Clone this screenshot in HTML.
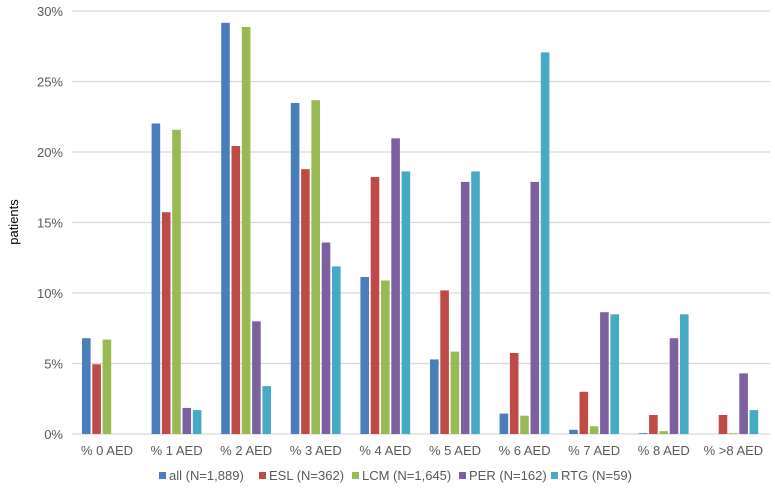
<!DOCTYPE html>
<html><head><meta charset="utf-8"><style>
body{margin:0;background:#fff;}
svg text{font-family:"Liberation Sans",sans-serif;fill:#595959;}
</style></head><body>
<svg id="s" width="775" height="489" xmlns="http://www.w3.org/2000/svg">
<g stroke="#d9d9d9" stroke-width="1.3">
<line x1="72" x2="770" y1="11" y2="11"/><line x1="72" x2="770" y1="81.5" y2="81.5"/>
<line x1="72" x2="770" y1="152" y2="152"/><line x1="72" x2="770" y1="222.5" y2="222.5"/>
<line x1="72" x2="770" y1="293" y2="293"/><line x1="72" x2="770" y1="363.5" y2="363.5"/>
<line x1="72" x2="770" y1="434" y2="434"/>
</g>
<g font-size="13" text-anchor="end">
<text x="63" y="16">30%</text><text x="63" y="86.5">25%</text><text x="63" y="157">20%</text>
<text x="63" y="227.5">15%</text><text x="63" y="298">10%</text><text x="63" y="368.5">5%</text><text x="63" y="439">0%</text>
</g>
<text transform="translate(18,222) rotate(-90)" font-size="13" text-anchor="middle" style="fill:#000">patients</text>
<g id="bars"></g>
<g font-size="13" text-anchor="middle">
<text x="107" y="455">% 0 AED</text><text x="176.6" y="455">% 1 AED</text><text x="246.2" y="455">% 2 AED</text>
<text x="315.8" y="455">% 3 AED</text><text x="385.4" y="455">% 4 AED</text><text x="455" y="455">% 5 AED</text>
<text x="524.6" y="455">% 6 AED</text><text x="594.2" y="455">% 7 AED</text><text x="663.8" y="455">% 8 AED</text>
<text x="733.4" y="455">% &gt;8 AED</text>
</g>
<g font-size="13">
<rect x="159" y="472" width="7" height="7" fill="#4a7ebb"/><text x="169" y="480">all (N=1,889)</text>
<rect x="259" y="472" width="7" height="7" fill="#be4b48"/><text x="269" y="480">ESL (N=362)</text>
<rect x="352" y="472" width="7" height="7" fill="#98b954"/><text x="362" y="480">LCM (N=1,645)</text>
<rect x="459" y="472" width="7" height="7" fill="#7d60a0"/><text x="469" y="480">PER (N=162)</text>
<rect x="551" y="472" width="7" height="7" fill="#46aac5"/><text x="561" y="480">RTG (N=59)</text>
</g>
</svg>
<script>
var d=[[6.8,4.95,6.7,0,0],[22.05,15.75,21.6,1.85,1.7],[29.2,20.45,28.9,8.0,3.4],[23.5,18.8,23.7,13.6,11.9],[11.15,18.25,10.9,21.0,18.65],[5.3,10.2,5.85,17.9,18.65],[1.45,5.75,1.3,17.9,27.1],[0.3,3.0,0.55,8.65,8.5],[0.06,1.35,0.2,6.8,8.5],[0,1.35,0.06,4.3,1.7]];
var c=["#4a7ebb","#be4b48","#98b954","#7d60a0","#46aac5"],h="";
for(var i=0;i<10;i++)for(var j=0;j<5;j++){var v=d[i][j];if(v<=0)continue;var hh=v*14.083,x=72+i*69.6+10+j*10.3;
h+='<rect x="'+x.toFixed(1)+'" y="'+(434-hh).toFixed(1)+'" width="8.6" height="'+hh.toFixed(1)+'" fill="'+c[j]+'"/>';}
document.getElementById("bars").innerHTML=h;
</script>
</body></html>
